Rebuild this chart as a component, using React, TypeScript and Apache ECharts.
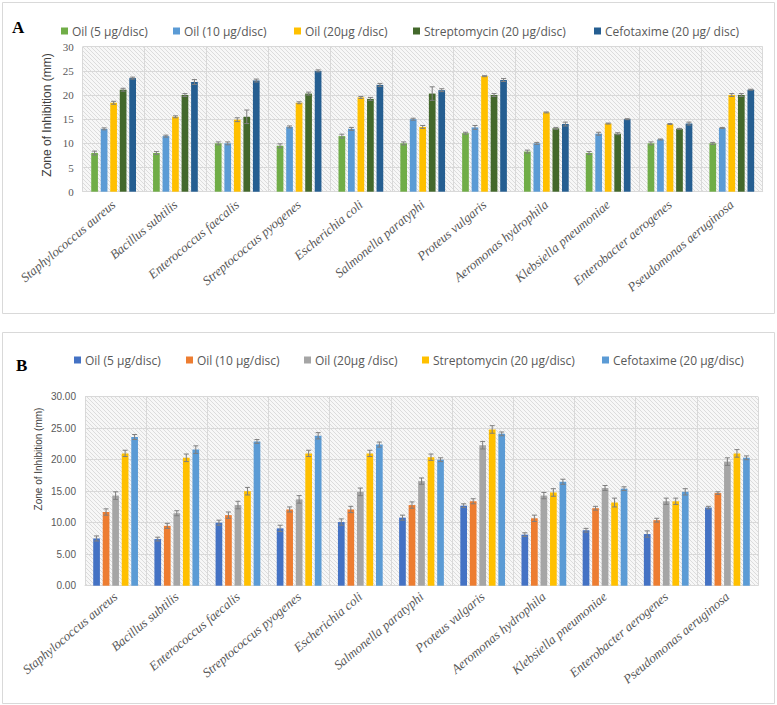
import React, { useEffect, useRef } from "react";
import * as echarts from "echarts";

// ---------- data ----------
const categories = [
  "Staphylococcus aureus",
  "Bacillus subtilis",
  "Enterococcus faecalis",
  "Streptococcus pyogenes",
  "Escherichia coli",
  "Salmonella paratyphi",
  "Proteus vulgaris",
  "Aeromonas hydrophila",
  "Klebsiella pneumoniae",
  "Enterobacter aerogenes",
  "Pseudomonas aeruginosa",
];

const namesA = [
  "Oil (5 µg/disc)",
  "Oil (10 µg/disc)",
  "Oil (20µg /disc)",
  "Streptomycin (20 µg/disc)",
  "Cefotaxime (20 µg/ disc)",
];
const namesB = [
  "Oil (5 µg/disc)",
  "Oil (10 µg/disc)",
  "Oil (20µg /disc)",
  "Streptomycin (20 µg/disc)",
  "Cefotaxime (20 µg/disc)",
];

// Panel A values (mm)
const oil5A = [8.0, 8.0, 10.0, 9.5, 11.5, 10.0, 12.1, 8.3, 8.0, 10.0, 10.0];
const oil10A = [13.0, 11.5, 10.0, 13.4, 13.0, 15.0, 13.3, 10.0, 12.0, 10.8, 13.2];
const oil20A = [18.4, 15.5, 14.9, 18.4, 19.5, 13.4, 23.9, 16.4, 14.1, 14.0, 20.0];
const strepA = [21.1, 20.0, 15.5, 20.3, 19.2, 20.3, 20.0, 13.1, 12.0, 13.0, 20.0];
const cefoA = [23.5, 22.7, 23.0, 25.0, 22.1, 21.0, 23.1, 14.0, 15.0, 14.1, 21.1];

const oil5AErr = [0.4, 0.3, 0.3, 0.4, 0.4, 0.3, 0.2, 0.3, 0.3, 0.3, 0.2];
const oil10AErr = [0.2, 0.2, 0.3, 0.2, 0.3, 0.2, 0.4, 0.2, 0.3, 0.1, 0.1];
const oil20AErr = [0.3, 0.2, 0.4, 0.2, 0.2, 0.3, 0.1, 0.1, 0.1, 0.1, 0.3];
const strepAErr = [0.3, 0.3, 1.4, 0.3, 0.3, 1.4, 0.3, 0.2, 0.2, 0.1, 0.3];
const cefoAErr = [0.2, 0.5, 0.3, 0.2, 0.3, 0.3, 0.3, 0.4, 0.1, 0.3, 0.1];

// Panel B values (mm)
const oil5B = [7.5, 7.4, 10.0, 9.1, 10.1, 10.8, 12.7, 8.1, 8.8, 8.2, 12.4];
const oil10B = [11.7, 9.5, 11.2, 12.1, 12.1, 12.8, 13.4, 10.7, 12.3, 10.4, 14.7];
const oil20B = [14.3, 11.5, 12.8, 13.7, 14.9, 16.6, 22.3, 14.3, 15.5, 13.4, 19.7];
const strepB = [21.0, 20.3, 15.0, 21.0, 21.0, 20.4, 24.8, 14.8, 13.2, 13.4, 21.0];
const cefoB = [23.6, 21.6, 22.9, 23.8, 22.4, 20.0, 24.1, 16.5, 15.4, 14.9, 20.3];

const oil5BErr = [0.4, 0.3, 0.4, 0.5, 0.5, 0.4, 0.3, 0.3, 0.3, 0.5, 0.2];
const oil10BErr = [0.5, 0.4, 0.5, 0.4, 0.5, 0.5, 0.4, 0.5, 0.3, 0.3, 0.2];
const oil20BErr = [0.6, 0.4, 0.6, 0.6, 0.6, 0.5, 0.6, 0.5, 0.4, 0.5, 0.6];
const strepBErr = [0.5, 0.6, 0.6, 0.5, 0.5, 0.5, 0.6, 0.6, 0.7, 0.5, 0.6];
const cefoBErr = [0.4, 0.6, 0.3, 0.5, 0.4, 0.3, 0.3, 0.4, 0.3, 0.5, 0.3];

const yTicks = [0, 5, 10, 15, 20, 25, 30];

// ---------- styles ----------
const colorsA = ["#70ad47", "#5b9bd5", "#ffc000", "#43682b", "#255e91"];
const colorsB = ["#4472c4", "#ed7d31", "#a5a5a5", "#ffc000", "#5b9bd5"];

const hatchSvg =
  "data:image/svg+xml;utf8," +
  encodeURIComponent(
    '<svg xmlns="http://www.w3.org/2000/svg" width="4" height="4"><rect width="4" height="4" fill="#f7f7f7"/><path d="M-1 3L1 5M0 0L4 4M3 -1L5 1" stroke="#dcdcdc" stroke-width="1"/></svg>'
  );
const hatch: any = { image: hatchSvg, repeat: "repeat", imageWidth: 4, imageHeight: 4 };

const BAR_W = 6.7;
const BAR_GAP = 0.42;

function errorSeries(values: number[], errs: number[], offset: number) {
  return {
    type: "custom",
    silent: true,
    z: 4,
    data: values.map((v, i) => [i, v, errs[i]]),
    encode: { x: 0, y: 1 },
    renderItem: (_p: any, api: any) => {
      const i = api.value(0);
      const v = api.value(1);
      const e = api.value(2);
      const hi = api.coord([i, v + e]);
      const lo = api.coord([i, v - e]);
      const x = hi[0] + offset;
      const hw = 2.5;
      const style = { stroke: "#7f7f7f", lineWidth: 1 };
      return {
        type: "group",
        children: [
          { type: "line", shape: { x1: x, y1: hi[1], x2: x, y2: lo[1] }, style },
          { type: "line", shape: { x1: x - hw, y1: hi[1], x2: x + hw, y2: hi[1] }, style },
          { type: "line", shape: { x1: x - hw, y1: lo[1], x2: x + hw, y2: lo[1] }, style },
        ],
      };
    },
  };
}

interface PanelCfg {
  names: string[];
  colors: string[];
  values: number[][];
  errs: number[][];
  grid: { left: number; top: number; width: number; height: number };
  legendLefts: number[];
  legendTop: number;
  letter: string;
  letterPos: [number, number];
  border: [number, number, number, number];
  titlePos: [number, number];
  titleSize: number;
  yFont: string;
  yFontSize: number;
  yFormatter: (v: number) => string;
  labelMargin: number;
}

function buildOption(c: PanelCfg) {
  const pitch = BAR_W * (1 + BAR_GAP);
  const series: any[] = [];
  c.values.forEach((vals, si) => {
    series.push({
      type: "bar",
      name: c.names[si],
      data: vals,
      barWidth: BAR_W,
      barGap: BAR_GAP * 100 + "%",
      itemStyle: { color: c.colors[si] },
      z: 2,
    });
  });
  c.values.forEach((vals, si) => {
    series.push(errorSeries(vals, c.errs[si], (si - 2) * pitch));
  });
  const legends = c.names.map((n, i) => ({
    data: [n],
    left: c.legendLefts[i],
    top: c.legendTop,
    padding: 0,
    icon: "rect",
    itemWidth: 7,
    itemHeight: 7,
    textStyle: {
      color: "#595959",
      fontSize: 12,
      fontFamily: "'Open Sans', 'Noto Sans', sans-serif",
      padding: [0, 0, 0, -1],
    },
  }));
  return {
    animation: false,
    backgroundColor: "#ffffff",
    legend: legends,
    grid: {
      left: c.grid.left,
      top: c.grid.top,
      width: c.grid.width,
      height: c.grid.height,
      show: true,
      backgroundColor: hatch,
      borderWidth: 0,
    },
    xAxis: {
      type: "category",
      data: categories,
      boundaryGap: true,
      axisLine: { show: true, lineStyle: { color: "#d9d9d9" } },
      axisTick: { show: false },
      splitLine: { show: true, interval: 0, lineStyle: { color: "#d9d9d9", width: 1 } },
      axisLabel: {
        interval: 0,
        rotate: 40,
        margin: c.labelMargin,
        color: "#595959",
        fontSize: 13,
        fontStyle: "italic",
        fontFamily: "'Liberation Serif', 'DejaVu Serif', serif",
      },
    },
    yAxis: {
      type: "value",
      min: yTicks[0],
      max: yTicks[yTicks.length - 1],
      interval: yTicks[1] - yTicks[0],
      axisLine: { show: false },
      axisTick: { show: false },
      splitLine: { show: true, lineStyle: { color: "#d9d9d9", width: 1 } },
      axisLabel: {
        color: "#595959",
        fontSize: c.yFontSize,
        fontFamily: c.yFont,
        margin: 9,
        formatter: c.yFormatter,
      },
    },
    graphic: [
      {
        type: "rect",
        silent: true,
        shape: { x: c.border[0], y: c.border[1], width: c.border[2], height: c.border[3] },
        style: { fill: "none", stroke: "#d9d9d9", lineWidth: 1 },
        z: -10,
      },
      {
        type: "text",
        x: c.letterPos[0],
        y: c.letterPos[1],
        style: {
          text: c.letter,
          fill: "#000000",
          font: "bold 17px 'Liberation Serif', serif",
        },
      },
      {
        type: "text",
        x: c.titlePos[0],
        y: c.titlePos[1],
        rotation: Math.PI / 2,
        style: {
          text: "Zone of Inhibition (mm)",
          fill: "#404040",
          align: "center",
          verticalAlign: "middle",
          font: `${c.titleSize}px 'Liberation Sans Narrow', 'Liberation Sans', sans-serif`,
        },
      },
    ],
    series,
  };
}

const cfgA: PanelCfg = {
  names: namesA,
  colors: colorsA,
  values: [oil5A, oil10A, oil20A, strepA, cefoA],
  errs: [oil5AErr, oil10AErr, oil20AErr, strepAErr, cefoAErr],
  grid: { left: 82.7, top: 46.7, width: 680, height: 145 },
  legendLefts: [61, 173, 294, 413, 594],
  legendTop: 25,
  letter: "A",
  letterPos: [12, 19],
  border: [2.5, 2.5, 772, 311],
  titlePos: [47, 115],
  titleSize: 12,
  yFont: "'Liberation Serif', serif",
  yFontSize: 11,
  yFormatter: (v: number) => String(v),
  labelMargin: 11,
};

const cfgB: PanelCfg = {
  names: namesB,
  colors: colorsB,
  values: [oil5B, oil10B, oil20B, strepB, cefoB],
  errs: [oil5BErr, oil10BErr, oil20BErr, strepBErr, cefoBErr],
  grid: { left: 85, top: 74.7, width: 673, height: 189 },
  legendLefts: [74, 186, 304, 422, 602],
  legendTop: 32,
  letter: "B",
  letterPos: [16, 35],
  border: [2.5, 10.5, 772, 371],
  titlePos: [38, 137],
  titleSize: 10,
  yFont: "'Liberation Sans', sans-serif",
  yFontSize: 10,
  yFormatter: (v: number) => v.toFixed(2),
  labelMargin: 9,
};

function Panel({ cfg, top, height }: { cfg: PanelCfg; top: number; height: number }) {
  const ref = useRef<HTMLDivElement>(null);
  useEffect(() => {
    if (!ref.current) return;
    const chart = echarts.init(ref.current, undefined, { renderer: "svg" });
    chart.setOption(buildOption(cfg) as any);
    return () => chart.dispose();
  }, [cfg]);
  return (
    <div
      ref={ref}
      style={{ position: "absolute", left: 0, top, width: 777, height }}
    />
  );
}

export default function App() {
  return (
    <div
      style={{
        position: "fixed",
        left: 0,
        top: 0,
        width: 777,
        height: 705,
        background: "#ffffff",
        overflow: "hidden",
      }}
    >
      <Panel cfg={cfgA} top={0} height={322} />
      <Panel cfg={cfgB} top={322} height={383} />
    </div>
  );
}
